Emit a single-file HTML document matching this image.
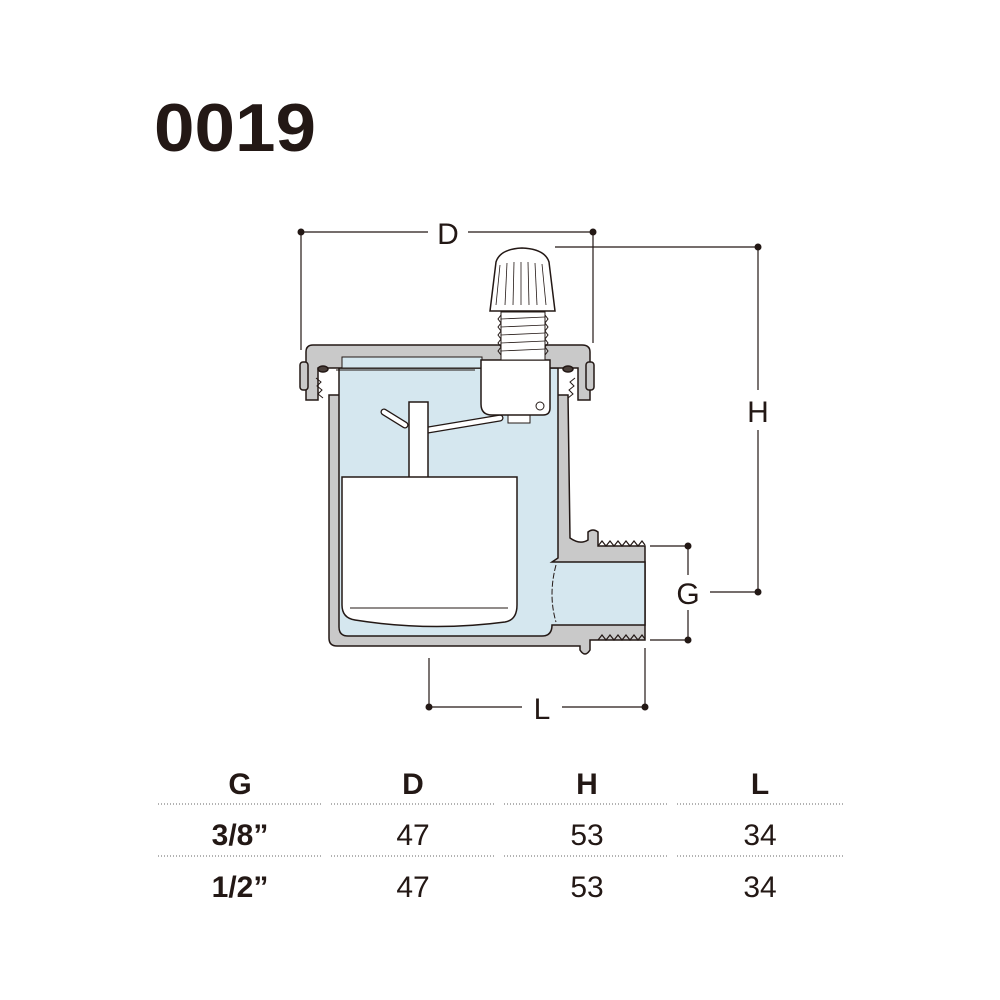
<!DOCTYPE html>
<html><head><style>
html,body{margin:0;padding:0;background:#fff;}
svg{display:block}
text{font-family:"Liberation Sans",sans-serif;fill:#231815}
</style></head><body>
<svg width="1000" height="1000" viewBox="0 0 1000 1000" xmlns="http://www.w3.org/2000/svg">
<text x="154" y="151" font-size="68" font-weight="bold" textLength="162" lengthAdjust="spacingAndGlyphs">0019</text>

<!-- dimension lines -->
<g stroke="#231815" stroke-width="1.2" fill="none">
<line x1="301" y1="232" x2="428" y2="232"/><line x1="468" y1="232" x2="593" y2="232"/>
<line x1="301" y1="232" x2="301" y2="350"/><line x1="593" y1="232" x2="593" y2="343"/>
<line x1="555" y1="247" x2="758" y2="247"/>
<line x1="758" y1="247" x2="758" y2="390"/><line x1="758" y1="430" x2="758" y2="592"/>
<line x1="710" y1="592" x2="758" y2="592"/>
<line x1="650" y1="546" x2="688" y2="546"/><line x1="650" y1="640" x2="688" y2="640"/>
<line x1="688" y1="546" x2="688" y2="575"/><line x1="688" y1="610" x2="688" y2="640"/>
<line x1="429" y1="658" x2="429" y2="707"/><line x1="645" y1="648" x2="645" y2="707"/>
<line x1="429" y1="707" x2="522" y2="707"/><line x1="562" y1="707" x2="645" y2="707"/>
</g>
<g fill="#231815">
<circle cx="301" cy="232" r="3.5"/><circle cx="593" cy="232" r="3.5"/>
<circle cx="758" cy="247" r="3.5"/><circle cx="758" cy="592" r="3.5"/>
<circle cx="688" cy="546" r="3.5"/><circle cx="688" cy="640" r="3.5"/>
<circle cx="429" cy="707" r="3.5"/><circle cx="645" cy="707" r="3.5"/>
</g>
<text x="448" y="244" font-size="30" text-anchor="middle">D</text>
<text x="758" y="422" font-size="30" text-anchor="middle">H</text>
<text x="688" y="604" font-size="30" text-anchor="middle">G</text>
<text x="542" y="719" font-size="30" text-anchor="middle">L</text>

<!-- body -->
<g stroke="#231815" stroke-width="1.5">
<path d="M329 395 L329 638 Q329 646 337 646 L580 646 L580 650 Q585 658 590 650 L590 640 L645 640 L645 546 L598 546 L598 532 Q593 528 588 532 L588 540 Q580 545 570 538 L568 395 Z" fill="#c9c9c9"/>
<path d="M339 368 L558 368 L558 558 L552 562 L645 562 L645 625 L552 625 Q552 636 542 636 L348 636 Q339 636 339 627 Z" fill="#d5e7ef"/>
<path d="M306 352 Q306 345 313 345 L582 345 Q590 345 590 352 L590 400 L578 400 L578 368 L318 368 L318 400 L306 400 Z" fill="#c9c9c9"/>
<rect x="300" y="362" width="8" height="28" rx="3" fill="#c9c9c9"/>
<rect x="586" y="362" width="8" height="28" rx="3" fill="#c9c9c9"/>
<rect x="342" y="357" width="140" height="11" fill="#d5e7ef" stroke-width="1"/>
<line x1="336" y1="370" x2="475" y2="370" stroke-width="1"/>
<ellipse cx="323" cy="369" rx="5" ry="3" fill="#4a3f3a"/>
<ellipse cx="568" cy="369" rx="5" ry="3" fill="#4a3f3a"/>
<path d="M316 378 l5 4 -4 4 5 4 -4 4 5 4" fill="none" stroke-width="1"/>
<path d="M575 378 l-5 4 4 4 -5 4 4 4 -5 4" fill="none" stroke-width="1"/>
<path d="M598 546 l4 -5 4 5 4 -5 4 5 4 -5 4 5 4 -5 4 5 4 -5 4 5 4 -5 3 4" fill="none" stroke-width="1.2"/>
<path d="M598 640 l4 -5 4 5 4 -5 4 5 4 -5 4 5 4 -5 4 5 4 -5 4 5 4 -5 3 4" fill="none" stroke-width="1.2"/>
<path d="M556 565 Q548 595 556 622" fill="none" stroke-width="1" stroke-dasharray="6 2"/>
<!-- float -->
<path d="M384 412 L405 425 M428 430 L500 418" fill="none" stroke-width="7" stroke-linecap="round"/>
<path d="M384 412 L405 425 M428 430 L500 418" fill="none" stroke="#fff" stroke-width="4.5" stroke-linecap="round"/>
<rect x="409" y="402" width="19" height="78" fill="#fff"/>
<path d="M342 477 L517 477 L517 605 Q517 620 505 622 Q430 632 355 620 Q342 618 342 605 Z" fill="#fff"/>
<line x1="350" y1="608" x2="508" y2="608" stroke-width="1"/>
<!-- valve block -->
<rect x="508" y="413" width="22" height="10" fill="#fff" stroke-width="1"/>
<path d="M481 360 L550 360 L550 408 Q550 415 543 415 L492 415 Q481 415 481 404 Z" fill="#fff"/>
<circle cx="540" cy="406" r="4" fill="#fff" stroke-width="1"/>
<!-- threaded stem -->
<rect x="501" y="312" width="44" height="48" fill="#fff" stroke-width="1"/>
<path d="M501 315 l-3 4 3 4 -3 4 3 4 -3 4 3 4 -3 4 3 4 -3 4 3 4 M545 315 l3 4 -3 4 3 4 -3 4 3 4 -3 4 3 4 -3 4 3 4 -3 4" fill="none" stroke-width="1"/>
<g stroke-width="0.8"><line x1="501" y1="319" x2="545" y2="317"/><line x1="501" y1="327" x2="545" y2="325"/><line x1="501" y1="335" x2="545" y2="333"/><line x1="501" y1="343" x2="545" y2="341"/><line x1="501" y1="351" x2="545" y2="349"/></g>
<!-- knob -->
<path d="M490 311 L496 262 Q500 249 522 248 Q545 249 549 262 L555 311 Z" fill="#fff"/>
<g stroke-width="0.8"><line x1="500" y1="265" x2="496" y2="305"/><line x1="507" y1="263" x2="505" y2="305"/><line x1="514" y1="262" x2="513" y2="305"/><line x1="521" y1="262" x2="521" y2="305"/><line x1="528" y1="262" x2="529" y2="305"/><line x1="535" y1="263" x2="537" y2="305"/><line x1="542" y1="264" x2="546" y2="305"/></g>
</g>

<!-- table -->
<g font-size="30" text-anchor="middle">
<text x="240" y="794" font-weight="bold">G</text>
<text x="413" y="794" font-weight="bold">D</text>
<text x="587" y="794" font-weight="bold">H</text>
<text x="760" y="794" font-weight="bold">L</text>
<text x="240" y="845" font-weight="bold">3/8”</text>
<text x="413" y="845" fill="#4a4340">47</text>
<text x="587" y="845" fill="#4a4340">53</text>
<text x="760" y="845" fill="#4a4340">34</text>
<text x="240" y="897" font-weight="bold">1/2”</text>
<text x="413" y="897" fill="#4a4340">47</text>
<text x="587" y="897" fill="#4a4340">53</text>
<text x="760" y="897" fill="#4a4340">34</text>
</g>
<g stroke="#666" stroke-width="1" stroke-dasharray="1 2">
<line x1="158" y1="804" x2="323" y2="804"/><line x1="331" y1="804" x2="496" y2="804"/><line x1="504" y1="804" x2="669" y2="804"/><line x1="677" y1="804" x2="843" y2="804"/>
<line x1="158" y1="856" x2="323" y2="856"/><line x1="331" y1="856" x2="496" y2="856"/><line x1="504" y1="856" x2="669" y2="856"/><line x1="677" y1="856" x2="843" y2="856"/>
</g>
</svg>
</body></html>
